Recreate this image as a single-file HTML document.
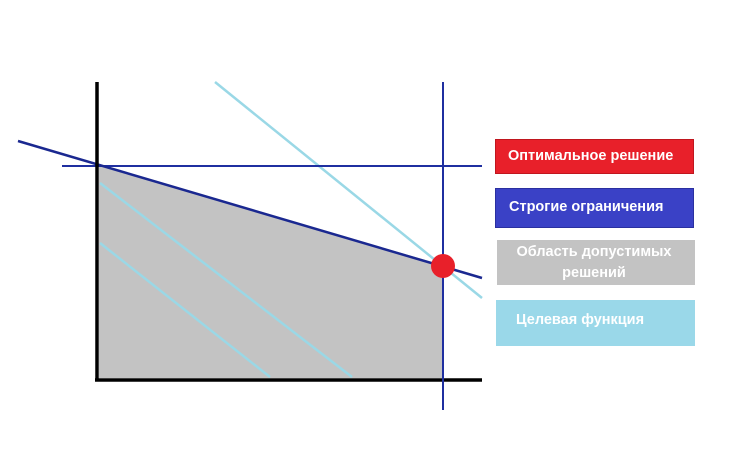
<!DOCTYPE html>
<html><head><meta charset="utf-8"><style>
html,body{margin:0;padding:0;background:#fff;width:730px;height:464px;overflow:hidden}
.b{position:absolute;font-family:"Liberation Sans",sans-serif;font-weight:bold;font-size:14.5px;color:#fff;box-sizing:border-box;white-space:nowrap}
</style></head><body>
<svg width="730" height="464" style="position:absolute;left:0;top:0">
<polygon points="99,166 443,265 443,378 99,378" fill="#c3c3c3"/>
<line x1="100" y1="183" x2="352" y2="377" stroke="#9ad8e6" stroke-width="2.5"/>
<line x1="100" y1="243" x2="270" y2="377" stroke="#9ad8e6" stroke-width="2.5"/>
<line x1="215" y1="82" x2="482" y2="298" stroke="#9ad8e6" stroke-width="2.5"/>
<line x1="62" y1="166" x2="482" y2="166" stroke="#1f2fa0" stroke-width="2"/>
<line x1="443" y1="82" x2="443" y2="410" stroke="#1f2fa0" stroke-width="2"/>
<line x1="18" y1="141" x2="482" y2="278" stroke="#1a2890" stroke-width="2.5"/>
<line x1="97" y1="82" x2="97" y2="381" stroke="#000" stroke-width="3.5"/>
<line x1="95" y1="380" x2="482" y2="380" stroke="#000" stroke-width="3.5"/>
<line x1="443" y1="376" x2="443" y2="410" stroke="#1f2fa0" stroke-width="2"/>
<circle cx="443" cy="266" r="12" fill="#e8202a"/>
</svg>
<div class="b" style="left:495px;top:139px;width:199px;height:35px;background:#e8202a;border:1px solid #c0161e;padding:8px 0 0 12px">Оптимальное решение</div>
<div class="b" style="left:495px;top:188px;width:199px;height:40px;background:#3a41c6;border:1px solid #2a30a0;padding:10px 0 0 13px">Строгие ограничения</div>
<div class="b" style="left:497px;top:240px;width:198px;height:45px;background:#c3c3c3;padding:2px 12px 0 8px;line-height:21px;text-align:center">Область допустимых<br>решений</div>
<div class="b" style="left:496px;top:300px;width:199px;height:46px;background:#9ad8e9;padding:12px 0 0 20px">Целевая функция</div>
</body></html>
